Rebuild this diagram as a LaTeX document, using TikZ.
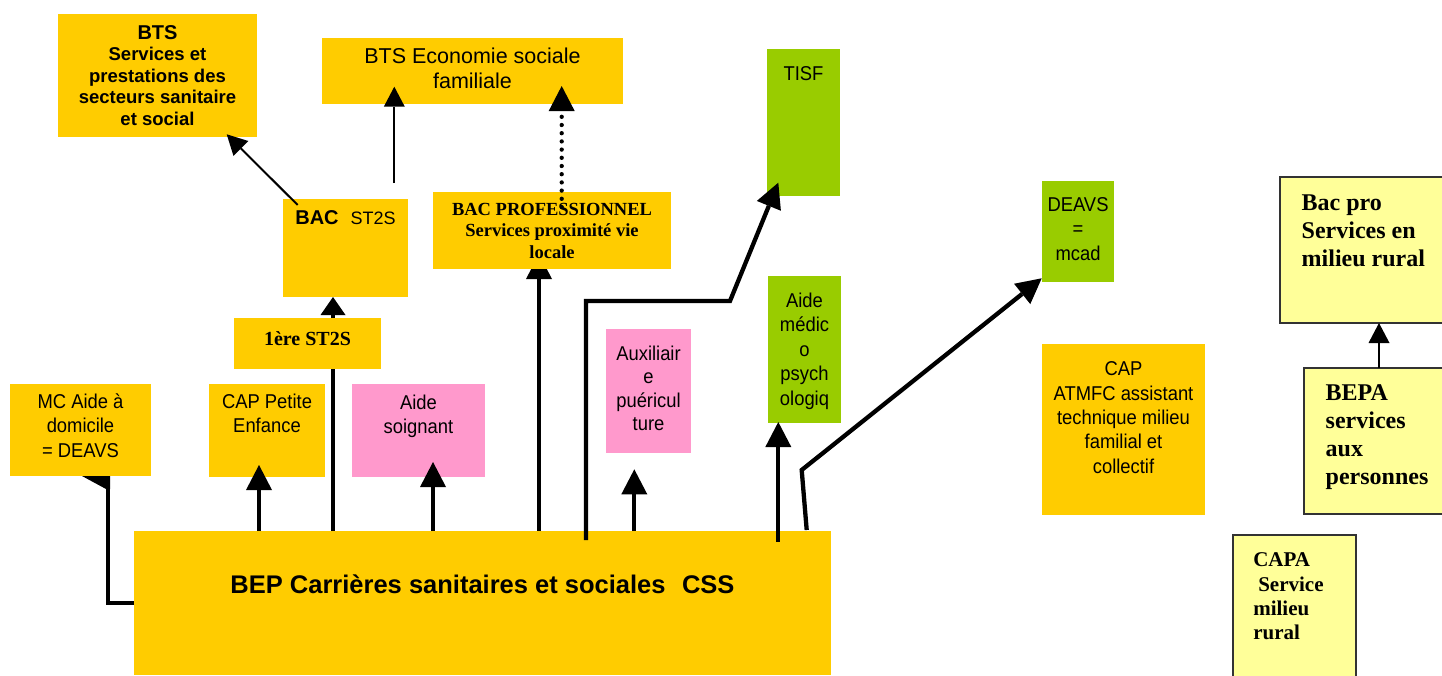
\documentclass[tikz,border=0pt]{standalone}
\usepackage{fontspec}
\setmainfont{Liberation Sans}
\newfontfamily\narrowfont{Liberation Sans}[FakeStretch=0.92]
\newfontfamily\timesfont{Liberation Serif}
\usetikzlibrary{arrows.meta,calc}
\definecolor{gold}{HTML}{FFCC00}
\definecolor{pinkfill}{HTML}{FF99CC}
\definecolor{greenfill}{HTML}{99CC00}
\definecolor{paleyellow}{HTML}{FFFF99}
\newcommand\fsz[2]{\fontsize{#1}{#2}\selectfont}
\newcommand\cbox[4]{\parbox[c][#2][t]{#1}{\centering\rule{0pt}{#3}#4\par}}
\newcommand\lbox[5]{\parbox[c][#2][t]{#1}{\raggedright\leftskip=#5\rule{0pt}{#3}#4\par}}
\pgfdeclarelayer{bg}
\pgfsetlayers{bg,main}
\begin{document}
\begin{tikzpicture}[x=1pt,y=-1pt,
  box/.style={inner sep=0pt, outer sep=0pt, anchor=north west},
  goldbox/.style={box, fill=gold},
  pinkbox/.style={box, fill=pinkfill},
  greenbox/.style={box, fill=greenfill},
  ruralbox/.style={box, fill=paleyellow, draw=black!80, line width=1.3pt},
  bigarrow/.style={line width=4.3pt, -{Triangle[length=25pt,width=26pt,line width=0pt]}},
  thinarrow/.style={line width=2pt, -{Triangle[length=20pt,width=21pt,line width=0pt]}},
  dotarrow/.style={line width=4.3pt, line cap=round, dash pattern=on 0pt off 8.2pt, -{Triangle[length=25pt,width=26pt,line width=0pt]}},
  plainline/.style={line width=4.3pt}
]
\useasboundingbox (0,0) rectangle (1442,675);

% boxes
\node[goldbox] (bts1) at (58,14) {\cbox{199pt}{123pt}{25pt}{\bfseries\fsz{18.5}{21.5}{\fsz{20}{21.5}BTS}\\Services et\\prestations des\\secteurs sanitaire\\et social}};
\node[goldbox] (bts2) at (322,38) {\cbox{301pt}{66pt}{25.5pt}{\fsz{21.5}{25}BTS Economie sociale\\familiale}};
\node[greenbox] (tisf) at (767,49) {\cbox{73pt}{147pt}{31pt}{\narrowfont\fsz{20}{24.5}TISF}};
\node[goldbox] (bac) at (283,199) {\cbox{125pt}{98pt}{25pt}{{\bfseries\fsz{20}{24}BAC}\hspace{12pt}{\fsz{18}{24}ST2S}}};
\node[goldbox] (bacpro) at (433,192) {\cbox{238pt}{77pt}{23pt}{\timesfont\bfseries\fsz{18.5}{21.5}BAC PROFESSIONNEL\\Services proximité vie\\locale}};
\node[goldbox] (prem) at (234,318) {\cbox{147pt}{51pt}{27.7pt}{\timesfont\bfseries\fsz{20}{24}1ère ST2S}};
\node[goldbox] (mc) at (10,384) {\cbox{141pt}{92pt}{24.3pt}{\narrowfont\fsz{20}{24.5}MC Aide à\\domicile\\= DEAVS}};
\node[goldbox] (capp) at (209,384) {\cbox{116pt}{93pt}{24.3pt}{\narrowfont\fsz{20}{24.5}CAP Petite\\Enfance}};
\node[pinkbox] (aides) at (352,384) {\cbox{133pt}{93pt}{25pt}{\narrowfont\fsz{20}{24}Aide\\soignant}};
\node[pinkbox] (aux) at (606,329) {\cbox{85pt}{124pt}{31pt}{\narrowfont\fsz{20}{23.5}Auxiliair\\e\\puéricul\\ture}};
\node[greenbox] (amp) at (768,276) {\cbox{73pt}{147pt}{31.3pt}{\narrowfont\fsz{20}{24.5}Aide\\médic\\o\\psych\\ologiq}};
\node[greenbox] (deavs) at (1042,181) {\cbox{72pt}{101pt}{30.7pt}{\narrowfont\fsz{20}{24.2}DEAVS\\=\\mcad}};
\node[goldbox] (atmfc) at (1042,344) {\cbox{163pt}{171pt}{31.7pt}{\narrowfont\fsz{20}{24.4}CAP\\ATMFC assistant\\technique milieu\\familial et\\collectif}};
\node[ruralbox] (bacsmr) at (1280,177) {\lbox{175pt}{146pt}{33pt}{\timesfont\bfseries\fsz{24}{28}Bac pro\\Services en\\milieu rural}{21.7pt}};
\node[ruralbox] (bepa) at (1304,368) {\lbox{150pt}{146pt}{32.7pt}{\timesfont\bfseries\fsz{24}{27.8}BEPA\\services\\aux\\personnes}{21.7pt}};
\node[ruralbox] (capa) at (1233,535) {\lbox{123pt}{150pt}{31.7pt}{\timesfont\bfseries\fsz{21}{24.3}CAPA\\\hspace*{5pt}Service\\milieu\\rural}{20.3pt}};
\node[goldbox] (bep) at (134,531) {\cbox{697pt}{144pt}{62.3pt}{\bfseries\fsz{25.5}{30}BEP Carrières sanitaires et sociales\hspace{16.5pt}CSS}};

% background layer: white page and the arrow hidden under its box
\begin{pgfonlayer}{bg}
\fill[white] (0,0) rectangle (1442,675);
\draw[bigarrow] ($(bacpro.south |- bep.north)+(-13,0)$) -- ($(bacpro.south)+(-13,-15)$);
\end{pgfonlayer}

% connectors
\draw[plainline] (bep.west) -| ($(mc.south)+(27.5,0)$);
\fill ($(mc.south)+(1.5,0)$) -- ($(mc.south)+(29.5,0)$) -- ($(mc.south)+(29.5,13)$) -- ($(mc.south)+(25.5,13)$) -- cycle;
\draw[bigarrow] ($(capp.south |- bep.north)+(-8,0)$) -- ($(capp.south)+(-8,-12)$);
\draw[line width=3.5pt] ($(prem.south |- bep.north)+(25.5,0)$) -- ($(prem.south)+(25.5,0)$);
\draw[line width=3.5pt, -{Triangle[length=18pt,width=25pt,line width=0pt]}] ($(prem.north)+(25.5,0)$) -- ($(bac.south)+(-12.5,0)$);
\draw[bigarrow] ($(aides.south |- bep.north)+(14.5,0)$) -- ($(aides.south)+(14.5,-15)$);
\draw[bigarrow] ($(aux.south |- bep.north)+(-14.2,0)$) -- ($(aux.south)+(-14.2,16.3)$);
\draw[bigarrow] ($(amp.south |- bep.north)+(-26.2,10.7)$) -- ($(amp.south)+(-26.2,-1)$);
\draw[bigarrow] ($(tisf.south |- bep.north)+(-217.5,9)$) |- ($(tisf.south west)+(-37,105)$) -- ($(tisf.south west)+(11.3,-13.3)$);
\draw[bigarrow] ($(bep.north east)+(-24.3,-1)$) -- ($(deavs.south west)+(-240.3,188)$) -- ($(deavs.south west)+(-0.3,-3.7)$);
\draw[thinarrow] ($(bac.north west)+(14.7,6)$) -- ($(bts1.south)+(69.2,-2.7)$);
\draw[thinarrow] ($(bac.north)+(48.8,-16)$) -- ($(bts2.south west)+(72.3,-17.3)$);
\draw[dotarrow] ($(bacpro.north)+(9.7,15)$) -- ($(bts2.south)+(89.2,-18)$);
\draw[thinarrow] (bepa.north) -- (bepa.north |- bacsmr.south);
\end{tikzpicture}
\end{document}
